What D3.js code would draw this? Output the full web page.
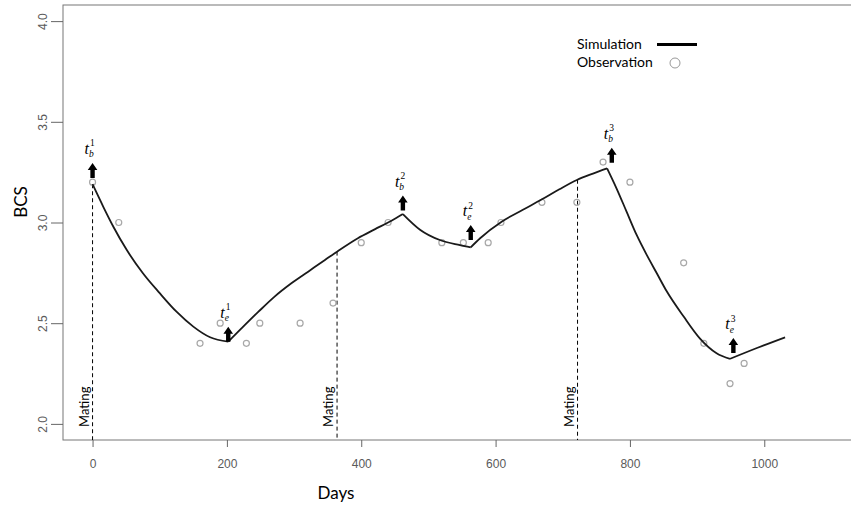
<!DOCTYPE html>
<html lang="en">
  <head>
    <meta charset="UTF-8" />
    <title>BCS simulation vs observation</title>
    <script src="https://d3js.org/d3.v7.min.js"></script>
    <style>
      body {
        margin: 0;
        padding: 0;
        background-color: #ffffff;
      }
      .tick text {
        font-family: "Liberation Sans", Arial, sans-serif;
        font-size: 12px;
        fill: #5a5a5a;
      }
      .tick line {
        stroke: #666;
      }
      .lbl {
        font-family: Lato, "Open Sans", sans-serif;
        fill: #000;
      }
      .tlabel {
        font-family: "Liberation Serif", serif;
        fill: #000;
      }
    </style>
  </head>
  <body>
    <div id="chart"></div>

    <script>
      const width = 851;
      const height = 511;

      // simulated BCS curve (day, value), split at the t points
      const simDays = [
        0, 16, 31, 51, 75, 100, 125, 150, 175, 202,
        222, 247, 271, 296, 321, 346, 366, 395, 420, 445, 462,
        488, 517, 547, 563,
        577, 609, 640, 669, 695, 721, 745, 766,
        780, 795, 810, 825, 840, 855, 880, 904, 929, 949,
        990, 1031,
      ];
      const simBCS = [
        3.19, 3.078, 2.979, 2.863, 2.748, 2.649, 2.557, 2.483, 2.43, 2.408,
        2.475, 2.557, 2.632, 2.698, 2.756, 2.814, 2.86, 2.922, 2.966, 3.009, 3.042,
        2.963, 2.913, 2.888, 2.877,
        2.922, 3.004, 3.062, 3.115, 3.165, 3.211, 3.243, 3.269,
        3.17, 3.054, 2.938, 2.839, 2.748, 2.657, 2.533, 2.425, 2.351, 2.323,
        2.378, 2.43,
      ];
      const breakDays = [202, 462, 563, 766, 949];

      // observed BCS
      const obsDays = [
        0, 39, 160, 190, 229, 249, 309, 358, 400, 440, 520, 552, 589, 608,
        669, 721, 760, 800, 880, 910, 949, 970,
      ];
      const obsBCS = [
        3.2, 3.0, 2.4, 2.5, 2.4, 2.5, 2.5, 2.6, 2.9, 3.0, 2.9, 2.9, 2.9, 3.0,
        3.1, 3.1, 3.3, 3.2, 2.8, 2.4, 2.2, 2.3,
      ];

      const matingDays = [0, 364, 722];

      // arrows marking t_b / t_e
      const arrowDays = [0, 202, 462, 563, 773, 954];
      const arrowBCS = [3.221, 2.408, 3.059, 2.913, 3.297, 2.352];
      const arrowSub = ["b", "e", "b", "e", "b", "e"];
      const arrowSup = ["1", "1", "2", "2", "3", "3"];

      const xTicks = [0, 200, 400, 600, 800, 1000];
      const yTicks = [2.0, 2.5, 3.0, 3.5, 4.0];

      const x = d3.scaleLinear().domain([-44, 1144]).range([63, 861]);
      const y = d3.scaleLinear().domain([1.92, 4.08]).range([440, 5]);

      const svg = d3
        .select("#chart")
        .append("svg")
        .attr("width", width)
        .attr("height", height);

      // plot box
      svg
        .append("rect")
        .attr("x", x.range()[0])
        .attr("y", y.range()[1])
        .attr("width", x.range()[1] - x.range()[0])
        .attr("height", y.range()[0] - y.range()[1])
        .attr("fill", "none")
        .attr("stroke", "#777")
        .attr("stroke-width", 1);

      const xAxis = svg
        .append("g")
        .attr("transform", `translate(0,${y.range()[0]})`)
        .call(
          d3
            .axisBottom(x)
            .tickValues(xTicks)
            .tickSize(7)
            .tickPadding(12)
            .tickFormat(d3.format("d"))
        );
      xAxis.select(".domain").remove();

      const yAxis = svg
        .append("g")
        .attr("transform", `translate(${x.range()[0]},0)`)
        .call(
          d3
            .axisLeft(y)
            .tickValues(yTicks)
            .tickSize(12)
            .tickFormat(d3.format(".1f"))
        );
      yAxis.select(".domain").remove();
      yAxis
        .selectAll(".tick text")
        .attr("x", null)
        .attr("dy", null)
        .attr("text-anchor", "middle")
        .attr("transform", "translate(-16.5,0) rotate(-90)");

      // axis titles
      svg
        .append("text")
        .attr("class", "lbl")
        .attr("transform", "translate(27,202) rotate(-90)")
        .attr("text-anchor", "middle")
        .attr("font-size", 17)
        .text("BCS");
      svg
        .append("text")
        .attr("class", "lbl")
        .attr("x", 336)
        .attr("y", 499)
        .attr("text-anchor", "middle")
        .attr("font-size", 17)
        .text("Days");

      const simData = simDays.map((d, i) => ({ day: d, bcs: simBCS[i] }));
      const simAt = (day) => {
        const i = d3.bisectLeft(simDays, day);
        if (i <= 0) return simBCS[0];
        const a = simData[i - 1];
        const b = simData[i];
        return a.bcs + ((day - a.day) / (b.day - a.day)) * (b.bcs - a.bcs);
      };

      // mating lines
      const mating = svg.append("g");
      matingDays.forEach((d) => {
        mating
          .append("line")
          .attr("x1", x(d))
          .attr("x2", x(d))
          .attr("y1", y(simAt(d)))
          .attr("y2", y.range()[0])
          .attr("stroke", "#000")
          .attr("stroke-width", 1)
          .attr("stroke-dasharray", "4,3");
        mating
          .append("text")
          .attr("class", "lbl")
          .attr("font-size", 13)
          .attr("transform", `translate(${x(d) - 4},${y(2.0) + 3}) rotate(-90)`)
          .text("Mating");
      });

      // observations
      svg
        .append("g")
        .selectAll("circle")
        .data(obsDays.map((d, i) => ({ day: d, bcs: obsBCS[i] })))
        .enter()
        .append("circle")
        .attr("cx", (d) => x(d.day))
        .attr("cy", (d) => y(d.bcs))
        .attr("r", 3)
        .attr("fill", "none")
        .attr("stroke", "#a8a8a8")
        .attr("stroke-width", 1.2);

      // simulation segments
      const cuts = [0, ...breakDays, 1e9];
      const line = d3
        .line()
        .x((d) => x(d.day))
        .y((d) => y(d.bcs))
        .curve(d3.curveMonotoneX);
      for (let k = 0; k < cuts.length - 1; k++) {
        const seg = simData.filter((d) => d.day >= cuts[k] && d.day <= cuts[k + 1]);
        svg
          .append("path")
          .datum(seg)
          .attr("d", line)
          .attr("fill", "none")
          .attr("stroke", "#1a1a1a")
          .attr("stroke-width", 1.8);
      }

      // arrows + t labels
      arrowDays.forEach((d, i) => {
        const ax = x(d);
        const base = y(arrowBCS[i]);
        const tip = base - 15;
        svg
          .append("path")
          .attr(
            "d",
            `M${ax - 2.2},${base} L${ax - 2.2},${tip + 7} L${ax - 4.8},${tip + 7} L${ax},${tip} L${ax + 4.8},${tip + 7} L${ax + 2.2},${tip + 7} L${ax + 2.2},${base} Z`
          )
          .attr("fill", "#000");

        // t with stacked sub/superscript, one text element
        const t = svg
          .append("text")
          .attr("class", "tlabel")
          .attr("x", ax - 8)
          .attr("y", tip - 9)
          .attr("font-size", 16);
        t.append("tspan").attr("font-style", "italic").text("t");
        t.append("tspan")
          .attr("font-size", 9.5)
          .attr("font-style", "italic")
          .attr("dy", 3.5)
          .text(arrowSub[i]);
        t.append("tspan")
          .attr("font-size", 9.5)
          .attr("x", ax - 2.5)
          .attr("dy", -11)
          .text(arrowSup[i]);
      });

      // legend
      const legend = svg.append("g");
      legend
        .append("text")
        .attr("class", "lbl")
        .attr("x", 577)
        .attr("y", 49)
        .attr("font-size", 14)
        .text("Simulation");
      legend
        .append("line")
        .attr("x1", 657)
        .attr("x2", 697)
        .attr("y1", 44.5)
        .attr("y2", 44.5)
        .attr("stroke", "#000")
        .attr("stroke-width", 3.2);
      legend
        .append("text")
        .attr("class", "lbl")
        .attr("x", 577)
        .attr("y", 67)
        .attr("font-size", 14)
        .text("Observation");
      legend
        .append("circle")
        .attr("cx", 675)
        .attr("cy", 63)
        .attr("r", 5)
        .attr("fill", "none")
        .attr("stroke", "#999")
        .attr("stroke-width", 1);
    </script>
  </body>
</html>
